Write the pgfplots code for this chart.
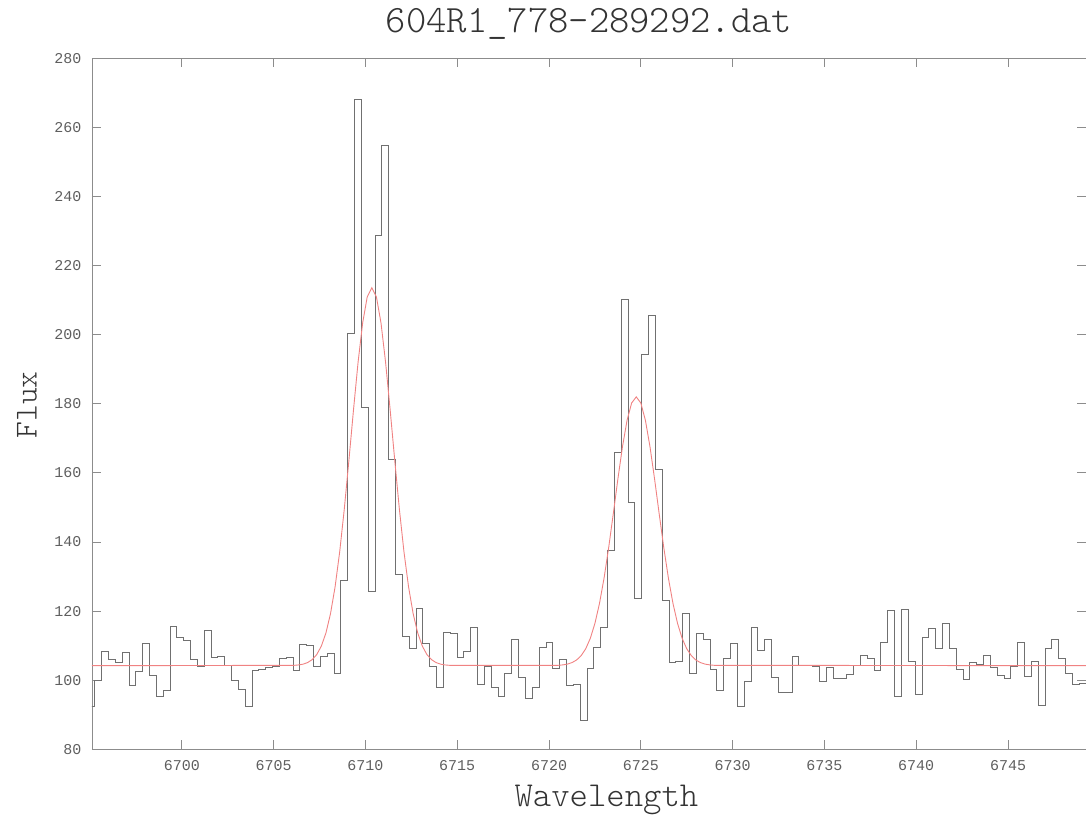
\documentclass[border=0pt]{standalone}
\usepackage{pgfplots}
\pgfplotsset{compat=1.18}
\usepackage{fontspec}
\newfontfamily\ticfont{Liberation Mono}
\newfontfamily\lmlight{Latin Modern Mono Light}
\definecolor{datagray}{RGB}{112,112,112}
\definecolor{axgray}{RGB}{140,140,140}
\definecolor{labgray}{RGB}{95,95,95}
\definecolor{fitred}{RGB}{240,130,130}
\pgfplotstableread{
x y
6694.890 92.3
6695.262 99.8
6695.635 108.2
6696.007 105.9
6696.379 105.1
6696.752 107.9
6697.124 98.5
6697.496 102.6
6697.868 110.5
6698.241 101.5
6698.613 95.4
6698.985 97.0
6699.358 115.7
6699.730 112.4
6700.102 111.4
6700.475 105.9
6700.847 104.0
6701.219 114.5
6701.591 106.5
6701.964 106.9
6702.336 104.3
6702.708 100.0
6703.081 97.2
6703.453 92.5
6703.825 102.7
6704.198 103.0
6704.570 103.6
6704.942 104.0
6705.314 106.3
6705.687 106.7
6706.059 102.8
6706.431 110.4
6706.804 110.2
6707.176 103.9
6707.548 106.8
6707.921 107.7
6708.293 101.9
6708.665 129.0
6709.037 200.4
6709.410 268.2
6709.782 179.0
6710.154 125.6
6710.527 228.7
6710.899 254.9
6711.271 163.8
6711.644 130.5
6712.016 112.6
6712.388 109.1
6712.760 120.8
6713.133 110.6
6713.505 103.9
6713.877 97.9
6714.250 113.8
6714.622 113.5
6714.994 106.6
6715.367 108.4
6715.739 115.3
6716.111 98.8
6716.483 104.1
6716.856 97.9
6717.228 95.2
6717.600 101.9
6717.973 111.9
6718.345 100.8
6718.717 94.8
6719.090 97.9
6719.462 109.6
6719.834 110.9
6720.206 103.3
6720.579 105.9
6720.951 98.6
6721.323 98.7
6721.696 88.4
6722.068 103.5
6722.440 109.4
6722.813 115.4
6723.185 137.5
6723.557 165.8
6723.929 210.2
6724.302 151.5
6724.674 123.8
6725.046 194.3
6725.419 205.6
6725.791 161.1
6726.163 123.0
6726.536 105.1
6726.908 105.4
6727.280 119.2
6727.652 101.9
6728.025 113.4
6728.397 111.9
6728.769 103.1
6729.142 96.9
6729.514 106.4
6729.886 110.6
6730.259 92.4
6730.631 99.5
6731.003 115.4
6731.375 108.5
6731.748 111.9
6732.120 100.9
6732.492 96.5
6732.865 96.5
6733.237 106.9
6733.609 104.4
6733.982 104.3
6734.354 104.0
6734.726 99.5
6735.098 103.6
6735.471 100.4
6735.843 100.4
6736.215 101.8
6736.588 104.4
6736.960 107.2
6737.332 106.3
6737.705 102.9
6738.077 110.9
6738.449 120.1
6738.821 95.2
6739.194 120.6
6739.566 105.4
6739.938 95.9
6740.311 112.5
6740.683 115.1
6741.055 109.3
6741.428 116.4
6741.800 109.3
6742.172 103.0
6742.544 100.1
6742.917 105.0
6743.289 104.6
6743.661 107.2
6744.034 103.6
6744.406 101.3
6744.778 100.6
6745.151 104.0
6745.523 110.9
6745.895 101.1
6746.267 105.5
6746.640 92.6
6747.012 109.3
6747.384 111.9
6747.757 106.3
6748.129 102.0
6748.501 98.9
6748.874 99.2
6749.246 99.2
}\spectrum
\pgfplotstableread{
x y
6694.89 104.20
6706.10 104.30
6706.35 104.41
6706.60 104.64
6706.85 105.10
6707.10 105.95
6707.35 107.42
6707.60 109.87
6707.85 113.66
6708.10 119.27
6708.35 127.04
6708.60 137.17
6708.85 149.52
6709.10 163.53
6709.35 178.15
6709.60 191.97
6709.85 203.39
6710.10 210.95
6710.35 213.60
6710.60 210.95
6710.85 203.39
6711.10 191.97
6711.35 178.15
6711.60 163.53
6711.85 149.52
6712.10 137.17
6712.35 127.04
6712.60 119.27
6712.85 113.66
6713.10 109.87
6713.35 107.42
6713.60 105.95
6713.85 105.10
6714.10 104.64
6714.35 104.41
6714.60 104.30
6720.50 104.31
6720.75 104.43
6721.00 104.66
6721.25 105.09
6721.50 105.84
6721.75 107.11
6722.00 109.11
6722.25 112.13
6722.50 116.44
6722.75 122.25
6723.00 129.62
6723.25 138.40
6723.50 148.16
6723.75 158.20
6724.00 167.55
6724.25 175.21
6724.50 180.24
6724.75 182.00
6725.00 180.24
6725.25 175.21
6725.50 167.55
6725.75 158.20
6726.00 148.16
6726.25 138.40
6726.50 129.62
6726.75 122.25
6727.00 116.44
6727.25 112.13
6727.50 109.11
6727.75 107.11
6728.00 105.84
6728.25 105.09
6728.50 104.66
6728.75 104.43
6729.00 104.31
6749.30 104.20
}\fit
\begin{document}
\begin{tikzpicture}
\useasboundingbox (-92pt,-67.7pt) rectangle (994pt,749.3pt);
\begin{axis}[
  at={(0pt,0pt)}, anchor=south west,
  scale only axis, width=994pt, height=691pt,
  xmin=6695.11, xmax=6749.246, ymin=80, ymax=280,
  xtick={6700,6705,...,6745}, ytick={80,100,...,280},
  tick align=inside, major tick length=9pt,
  axis line style={axgray, line width=0.9pt},
  tick style={axgray, line width=0.9pt},
  /pgf/number format/assume math mode=true,
  /pgf/number format/1000 sep={},
  ticklabel style={font=\ticfont\fontsize{15}{15}\selectfont, text=labgray},
  xticklabel style={yshift=-8pt},
  yticklabel style={xshift=-7pt},
  title={604R1\_778-289292.dat},
  title style={at={(axis description cs:0.5,1.041)}, anchor=center,
    font=\lmlight\fontsize{38.7}{38.7}\selectfont, text=black!80},
  xlabel={Wavelength},
  xlabel style={at={(axis description cs:0.5176,-0.0734)}, anchor=center,
    font=\lmlight\fontsize{35}{35}\selectfont, text=black!80},
  ylabel={Flux},
  ylabel style={at={(axis description cs:-0.0654,0.4983)}, anchor=center,
    font=\lmlight\fontsize{32}{32}\selectfont, text=black!80},
]
\addplot[const plot, datagray, line width=0.9pt] table[x=x, y=y] {\spectrum};
\addplot[fitred, line width=0.9pt] table[x=x, y=y] {\fit};
\end{axis}
\end{tikzpicture}
\end{document}
